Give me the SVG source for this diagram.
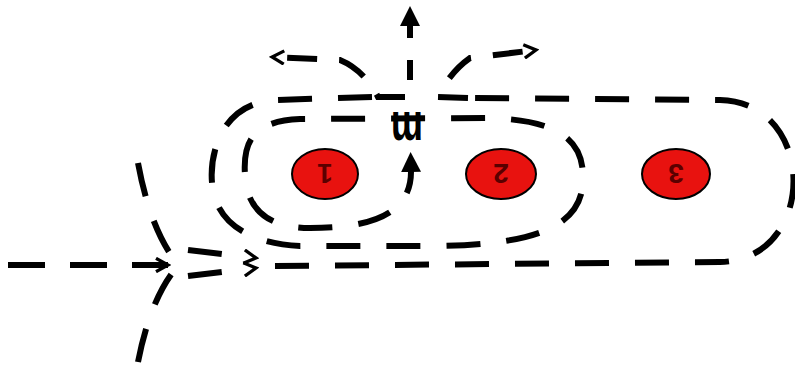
<svg xmlns="http://www.w3.org/2000/svg" width="795" height="365" viewBox="0 0 795 365">
<style>
.d{fill:none;stroke:#000;stroke-width:6;stroke-dasharray:34 26}
.c{fill:#e8120f;stroke:#000;stroke-width:2}
.t{font-family:"Liberation Sans",Arial,sans-serif;font-weight:bold;font-size:28px;fill:#5a0000;text-anchor:middle}
</style>
<defs>
<marker id="tri" viewBox="0 0 10 10" refX="1" refY="5" markerUnits="userSpaceOnUse" markerWidth="20" markerHeight="22" orient="auto">
<path d="M0,0 L10,5 L0,10 z" fill="#000"/>
</marker>
<marker id="chev" viewBox="0 0 12 12" refX="10" refY="6" markerUnits="userSpaceOnUse" markerWidth="16" markerHeight="16" orient="auto">
<path d="M1,1 L10,6 L1,11" fill="none" stroke="#000" stroke-width="2.5"/>
</marker>
</defs>
<rect width="795" height="365" fill="#fff"/>
<g id="connectors">
<path class="d" d="M8 265 L168 265" style="stroke-dasharray:37 25" marker-end="url(#chev)"/>
<path class="d" d="M138 163 Q150 228 176 262"/>
<path class="d" d="M138 362 Q150 300 176 268"/>
<path class="d" d="M188 250 L256 258" style="stroke-dasharray:34 40" marker-end="url(#chev)"/>
<path class="d" d="M188 276 L256 268" style="stroke-dasharray:34 40" marker-end="url(#chev)"/>
<path class="d" d="M275 266 L720 262 C818 260 818 102 720 100 L468 98"/>
<path class="d" d="M468 98 L438 97 Q450 72 470 58 L536 50" style="stroke-dasharray:30 22" marker-end="url(#chev)"/>
<path class="d" d="M405 97 L378 97 Q364 70 340 60 L272 57" style="stroke-dasharray:30 22" marker-end="url(#chev)"/>
<path class="d" d="M372 97 L275 100 C215 104 208 165 213 190 C220 230 260 244 300 246 L440 246 C540 244 585 225 583 175 C582 135 550 120 490 118 L300 119 C250 121 243 145 245 175 C247 215 275 228 310 228 C370 228 412 215 411 170" marker-end="url(#tri)"/>
<path class="d" d="M410 80 L410 24" style="stroke-dasharray:20 22" marker-end="url(#tri)"/>
</g>
<g id="node-1">
<ellipse class="c" cx="325" cy="174" rx="33" ry="25"/>
<text class="t" transform="translate(325 174) rotate(180)" y="10">1</text>
</g>
<g id="node-2">
<ellipse class="c" cx="501" cy="174" rx="35" ry="25"/>
<text class="t" transform="translate(501 174) rotate(180)" y="10">2</text>
</g>
<g id="node-3">
<ellipse class="c" cx="676" cy="174" rx="34" ry="25"/>
<text class="t" transform="translate(676 174) rotate(180)" y="10">3</text>
</g>
<g id="label-m">
<text transform="translate(407 126) rotate(180) scale(1 1.5)" y="9" style="font-family:'Liberation Sans',Arial,sans-serif;font-weight:bold;font-size:36px;fill:#000;text-anchor:middle">m</text>
</g>
</svg>
